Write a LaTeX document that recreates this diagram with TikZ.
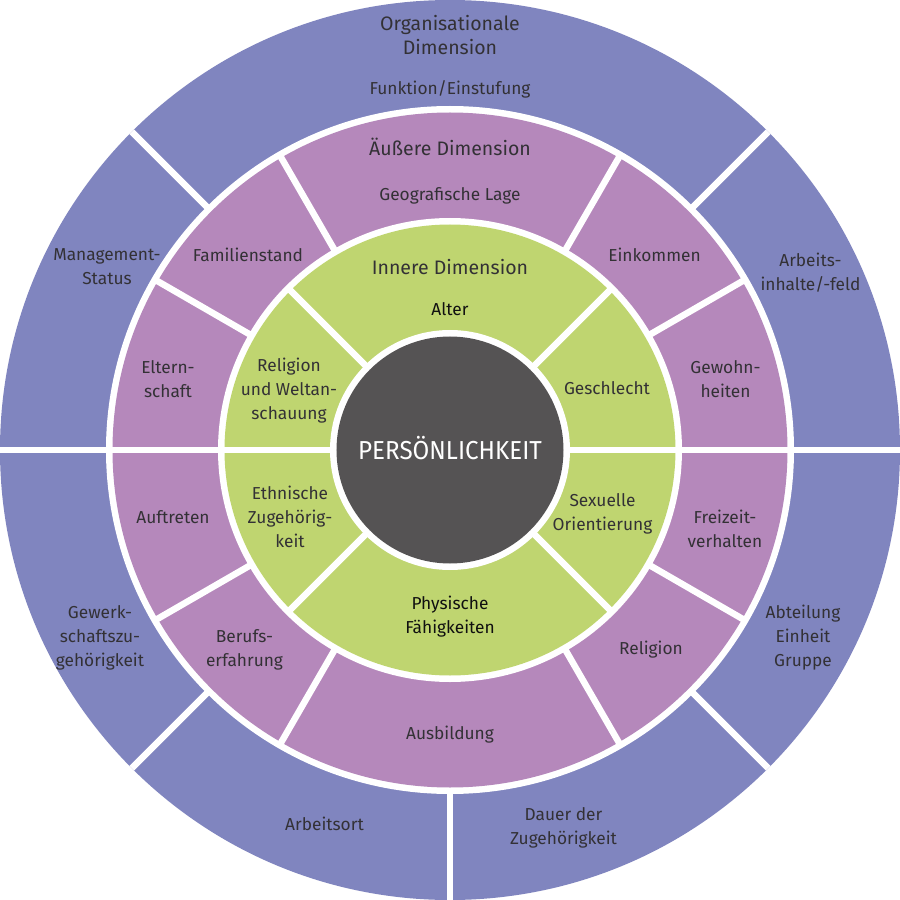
\documentclass[tikz,border=0pt]{standalone}
\usepackage{fontspec}
\setmainfont{Fira Sans}
\newfontfamily\condfont[FakeStretch=0.93]{Fira Sans}
\definecolor{ringblue}{HTML}{8085BF}
\definecolor{ringmauve}{HTML}{B588BB}
\definecolor{ringgreen}{HTML}{BFD570}
\definecolor{coredark}{HTML}{555354}
\definecolor{txtgray}{HTML}{333135}
\definecolor{txtblack}{HTML}{101010}
\begin{document}
\begin{tikzpicture}[x=1pt,y=1pt,
  lbl/.style={align=center, text=txtgray, inner sep=0pt, font=\fontsize{17.3}{24}\selectfont},
  head/.style={lbl, font=\fontsize{19.5}{24}\selectfont},
  dark/.style={lbl, text=txtblack},
  sep/.style={draw=white, line width=6.5pt}]
\useasboundingbox (-450,-450) rectangle (450,450);
\fill[white] (-450,-450) rectangle (450,450);
% rings
\fill[ringblue] (0,0) circle (450);
\fill[white] (0,0) circle (344);
\fill[ringmauve] (0,0) circle (337.5);
\fill[white] (0,0) circle (232);
\fill[ringgreen] (0,0) circle (225.5);
\fill[white] (0,0) circle (120);
\fill[coredark] (0,0) circle (113.5);
% separators
\foreach \a in {0,45,135,180,225,270,315} \draw[sep] (\a:340) -- (\a:450);
\foreach \a in {0,30,60,120,150,180,210,240,300,330} \draw[sep] (\a:228) -- (\a:341);
\foreach \a in {0,45,135,180,225,315} \draw[sep] (\a:116) -- (\a:229);
% outer ring labels
\node[head] (org) at (0,414.5) {Organisationale\\Dimension};
\node[lbl] (funk) at (0,361) {Funktion/Einstufung};
\node[lbl] (mgmt) at (-343,183) {Management-\\Status};
\node[lbl] (arbinh) at (360.5,177) {Arbeits-\\inhalte/-feld};
\node[lbl] (gewerk) at (-350,-187.5) {Gewerk-\\schaftszu-\\gehörigkeit};
\node[lbl] (abt) at (353,-187.5) {Abteilung\\Einheit\\Gruppe};
\node[lbl] (ort) at (-125.5,-374) {Arbeitsort};
\node[lbl] (dauer) at (113.5,-377.5) {Dauer der\\Zugehörigkeit};
% middle ring labels
\node[head] (auss) at (0,303) {Äußere Dimension};
\node[lbl] (geo) at (0,254) {Geografische Lage};
\node[lbl] (fam) at (-202,195) {Familienstand};
\node[lbl] (eink) at (204.5,195) {Einkommen};
\node[lbl] (eltern) at (-282,70.5) {Eltern-\\schaft};
\node[lbl] (gewohn) at (275.5,71) {Gewohn-\\heiten};
\node[lbl] (auftr) at (-277,-67) {Auftreten};
\node[lbl] (freiz) at (275,-79) {Freizeit-\\verhalten};
\node[lbl] (beruf) at (-205.5,-199.5) {Berufs-\\erfahrung};
\node[lbl] (relig2) at (201,-200) {Religion};
\node[lbl] (ausb) at (0,-285) {Ausbildung};
% inner ring labels
\node[head] (inn) at (0,183) {Innere Dimension};
\node[dark] (alter) at (0,141) {Alter};
\node[lbl] (relig) at (-161,59) {Religion\\und Weltan-\\schauung};
\node[lbl] (geschl) at (157,62) {Geschlecht};
\node[lbl] (ethn) at (-160,-66.5) {Ethnische\\Zugehörig-\\keit};
\node[lbl] (sex) at (152.5,-64) {Sexuelle\\Orientierung};
\node[dark] (phys) at (0,-167) {Physische\\Fähigkeiten};
% core
\node[inner sep=0pt, text=white, font=\condfont\fontsize{26}{30}\selectfont] (core) at (0,2) {PERSÖNLICHKEIT};
\end{tikzpicture}
\end{document}
